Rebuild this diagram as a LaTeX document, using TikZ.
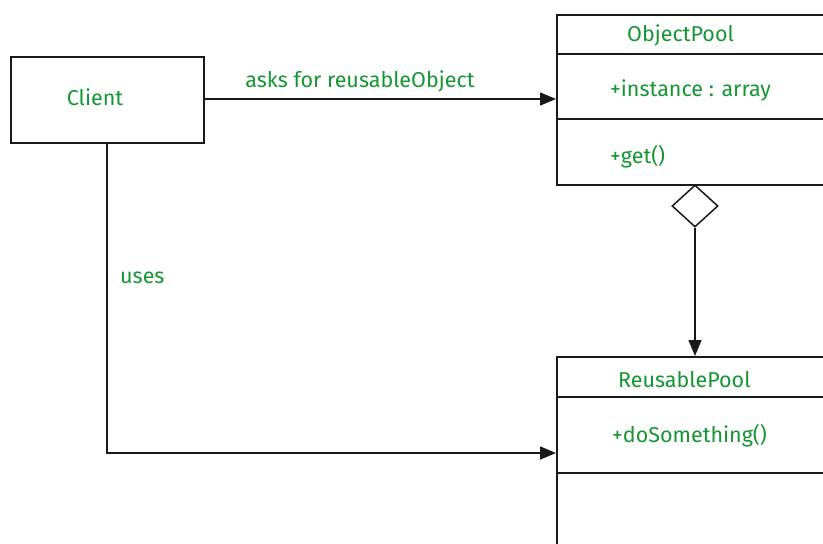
\documentclass[tikz,border=0pt]{standalone}
\usepackage{fontspec}
\setmainfont{Fira Sans}
\usetikzlibrary{arrows.meta,shapes.geometric}
\definecolor{umlgreen}{RGB}{20,150,50}
\definecolor{umlline}{RGB}{25,25,25}
\tikzset{
  box/.style={draw=umlline, line width=1.8pt, inner sep=0pt, anchor=north west},
  lbl/.style={text=umlgreen, font=\fontsize{21.5}{24}\selectfont, inner sep=0pt},
  conn/.style={draw=umlline, line width=1.5pt, -{Triangle[length=16pt,width=13pt]}},
  agg/.style={draw=umlline, line width=1.5pt, shape=diamond, aspect=1.1, minimum width=46pt, minimum height=42pt, inner sep=0pt, fill=white},
}
\begin{document}
\begin{tikzpicture}[x=1pt,y=-1pt]
\useasboundingbox (0,0) rectangle (823,544);
% Client
\node[box, minimum width=193pt, minimum height=86pt] (client) at (10,56) {};
\node[lbl] (clientlbl) at (95,97) {Client};
% ObjectPool
\node[box, minimum width=280pt, minimum height=170pt] (op) at (556,14) {};
\draw[umlline, line width=1.8pt] (556,54) coordinate (opd1a) -- (830,54) coordinate (opd1b);
\draw[umlline, line width=1.8pt] (556,119) coordinate (opd2a) -- (830,119) coordinate (opd2b);
\node[lbl, anchor=west] (opname) at (627,35) {ObjectPool};
\node[lbl, anchor=west] (opattr) at (610,90) {+instance : array};
\node[lbl, anchor=west] (opmeth) at (610,157) {+get()};
% ReusablePool
\node[box, minimum width=280pt, minimum height=210pt] (rp) at (556,356) {};
\draw[umlline, line width=1.8pt] (556,397) coordinate (rpd1a) -- (830,397) coordinate (rpd1b);
\draw[umlline, line width=1.8pt] (556,473) coordinate (rpd2a) -- (830,473) coordinate (rpd2b);
\node[lbl, anchor=west] (rpname) at (618,380) {ReusablePool};
\node[lbl, anchor=west] (rpmeth) at (612,436) {+doSomething()};
% Aggregation diamond
\node[agg] (dia) at (695,206) {};
% Connectors
\coordinate (opin) at (556,99);
\coordinate (clout) at (203,99);
\draw[conn] (clout) -- (opin);
\node[lbl] (asks) at (360,81) {asks for reusableObject};
\coordinate (rptop) at (695,356);
\draw[conn] (dia.south) -- (rptop);
\coordinate (clbot) at (107,142);
\coordinate (corner) at (107,453);
\coordinate (rpin) at (556,453);
\draw[conn] (clbot) -- (corner) -- (rpin);
\node[lbl, anchor=west] (uses) at (120,278) {uses};
\end{tikzpicture}
\end{document}
